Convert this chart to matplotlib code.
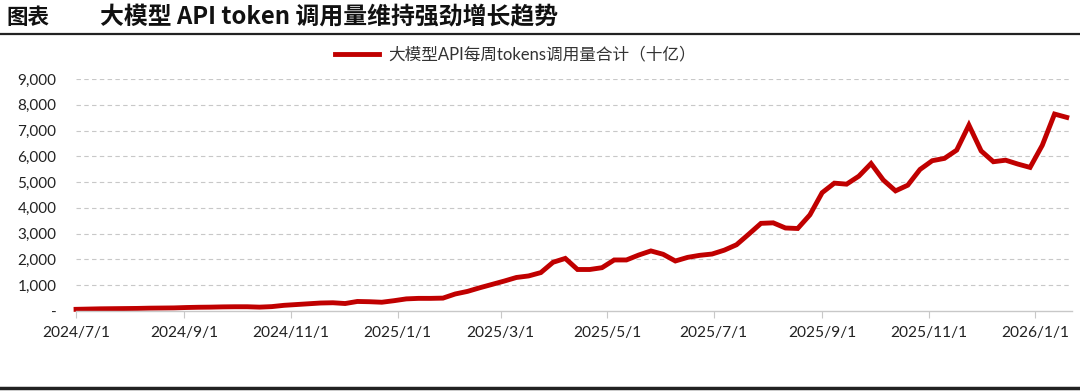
import numpy as np
import pandas as pd
import matplotlib
matplotlib.use('Agg')
import matplotlib.pyplot as plt
from matplotlib.lines import Line2D

plt.rcParams['font.family'] = ['Lato', 'Noto Sans CJK SC', 'DejaVu Sans']

# Weekly token usage (billions)
start_date = '2024-07-01'
weekly_tokens = [
    65, 75, 85, 90, 95, 100, 110, 115, 120, 135,
    145, 150, 160, 165, 165, 150, 170, 220, 250, 280,
    310, 320, 290, 370, 360, 340, 400, 470, 490, 490,
    500, 660, 760, 900, 1030, 1160, 1300, 1360, 1490, 1890,
    2040, 1610, 1610, 1680, 1980, 1980, 2170, 2330, 2200, 1940,
    2080, 2160, 2210, 2360, 2570, 2980, 3400, 3420, 3220, 3200,
    3730, 4590, 4960, 4920, 5230, 5720, 5080, 4660, 4880, 5490,
    5830, 5920, 6240, 7210, 6210, 5790, 5850, 5700, 5570, 6430,
    7640, 7510,
]
dates = pd.date_range(start_date, periods=len(weekly_tokens), freq='7D')

tick_dates = ['2024-07-01', '2024-09-01', '2024-11-01', '2025-01-01', '2025-03-01',
              '2025-05-01', '2025-07-01', '2025-09-01', '2025-11-01', '2026-01-01']
tick_labels = ['2024/7/1', '2024/9/1', '2024/11/1', '2025/1/1', '2025/3/1',
               '2025/5/1', '2025/7/1', '2025/9/1', '2025/11/1', '2026/1/1']
y_ticks = [0, 1000, 2000, 3000, 4000, 5000, 6000, 7000, 8000, 9000]

title_tag = '图表'
title = '大模型 API token 调用量维持强劲增长趋势'
series_name = '大模型API每周tokens调用量合计（十亿）'
red = '#C00000'

fig = plt.figure(figsize=(10.8, 3.91), dpi=100)
ax = fig.add_axes([0.0704, 0.2046, 0.9222, 0.5934])

ax.plot(dates, weekly_tokens, color=red, lw=3.5, solid_joinstyle='miter', clip_on=False)

ax.set_ylim(0, 9000)
ax.set_xlim(pd.Timestamp(start_date), pd.Timestamp('2026-01-22'))
ax.set_yticks(y_ticks)
ax.set_yticklabels(['-' if v == 0 else f'{v:,}' for v in y_ticks])
ax.set_xticks(pd.to_datetime(tick_dates))
ax.set_xticklabels(tick_labels)

for v in y_ticks[1:]:
    ax.axhline(v, color='#c8c8c8', lw=0.8, ls=(0, (4, 3)), zorder=0)

for s in ['top', 'right', 'left']:
    ax.spines[s].set_visible(False)
ax.spines['bottom'].set_color('#c8c8c8')
ax.spines['bottom'].set_linewidth(1.0)
ax.tick_params(axis='y', length=0, labelsize=11, labelcolor='#222222', pad=14)
ax.tick_params(axis='x', length=5, width=0.8, color='#c8c8c8', direction='out',
               labelsize=11.2, labelcolor='#222222', pad=6)

# Title and rules
cjk_bold = ['Noto Sans CJK SC', 'DejaVu Sans']
fig.text(0.006, 0.955, title_tag, fontsize=15.5, fontweight='bold', va='center', ha='left',
         family=cjk_bold, color='#111111')
fig.text(100 / 1080, 0.955, title, fontsize=17.2, fontweight='bold', va='center', ha='left',
         family=cjk_bold, color='#111111')
fig.add_artist(Line2D([0, 1], [0.913, 0.913], color='#222222', lw=1.6))
fig.add_artist(Line2D([0, 1], [0.007, 0.007], color='#222222', lw=2.5))

# Legend
fig.add_artist(Line2D([335 / 1080, 379 / 1080], [1 - 54 / 391, 1 - 54 / 391], color=red, lw=3.5))
fig.text(388 / 1080, 1 - 54 / 391, series_name, fontsize=12, va='center', ha='left',
         color='#333333', family=['Lato', 'Noto Sans CJK SC'])

fig.savefig('out.png', dpi=100)
